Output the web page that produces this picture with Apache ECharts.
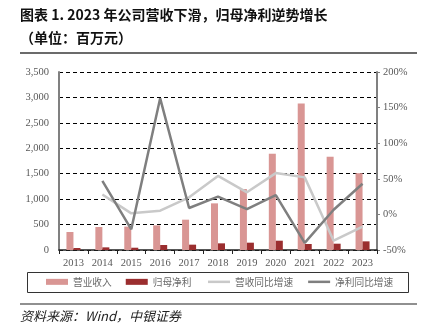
<!DOCTYPE html>
<html>
<head>
<meta charset="utf-8">
<script src="https://cdn.jsdelivr.net/npm/echarts@6/dist/echarts.min.js"></script>
<style>
  html, body { margin: 0; padding: 0; background: #fff; }
  #chart { width: 423px; height: 333px; }
</style>
</head>
<body>
<div id="chart"></div>
<script>
// Annual figures, 2013–2023 (RMB million; growth in %)
const years = ['2013', '2014', '2015', '2016', '2017', '2018', '2019', '2020', '2021', '2022', '2023'];
const revenue = [354, 452, 460, 484, 596, 917, 1199, 1893, 2883, 1834, 1510];
const netProfit = [39, 52, 45, 98, 105, 131, 144, 183, 118, 124, 170];
const revenueGrowth = [null, 28, 1.5, 5.2, 24, 54, 31, 58, 52, -37, -17];
const profitGrowth = [null, 47, -21, 163, 9, 25, 7.5, 27, -40, 6.5, 43];

const seriesNames = ['营业收入', '归母净利', '营收同比增速', '净利同比增速'];
const titleLine1 = '图表 1. 2023 年公司营收下滑，归母净利逆势增长';
const titleLine2 = '（单位：百万元）';
const sourceNote = '资料来源：Wind，中银证券';

const serif = '"Liberation Serif", "Noto Serif CJK SC", "Noto Sans CJK SC", serif';
const cjk = '"Noto Sans CJK SC", "Liberation Serif", sans-serif';
const labelColor = '#595959';
const legendText = { fontFamily: cjk, fontSize: 9.7, color: '#6a6a6a' };

const chart = echarts.init(document.getElementById('chart'), null, { renderer: 'canvas' });

chart.setOption({
  animation: false,
  backgroundColor: '#fff',
  grid: { left: 59, right: 46, top: 72, bottom: 83 },
  legend: [
    {
      // bar swatches
      data: seriesNames.slice(0, 2),
      left: 46, top: 277, itemGap: 14, padding: 0,
      itemWidth: 22, itemHeight: 6, icon: 'rect',
      textStyle: legendText
    },
    {
      // line swatches
      data: seriesNames.slice(2),
      left: 208, top: 277, itemGap: 15, padding: 0,
      itemWidth: 22, itemHeight: 2.5, icon: 'rect',
      textStyle: legendText
    }
  ],
  graphic: [
    { type: 'text', left: 20, top: 8, style: { text: titleLine1, font: 'bold 14px ' + cjk, fill: '#111' } },
    { type: 'text', left: 20, top: 31, style: { text: titleLine2, font: 'bold 14px ' + cjk, fill: '#111' } },
    { type: 'line', shape: { x1: 20, y1: 53, x2: 417, y2: 53 }, style: { stroke: '#6b6b6b', lineWidth: 2 } },
    { type: 'rect', shape: { x: 27.5, y: 272.5, width: 381, height: 20 }, style: { fill: 'none', stroke: '#333', lineWidth: 1 }, z: -1 },
    { type: 'line', shape: { x1: 20, y1: 304, x2: 417, y2: 304 }, style: { stroke: '#6b6b6b', lineWidth: 1.5 } },
    { type: 'text', left: 20, top: 310, style: { text: sourceNote, font: 'italic 13px ' + cjk, fill: '#222' } }
  ],
  xAxis: {
    type: 'category',
    data: years,
    boundaryGap: true,
    axisLine: { lineStyle: { color: '#222', width: 1.5 } },
    axisTick: { show: true, length: 4, lineStyle: { color: '#222' } },
    axisLabel: { fontFamily: serif, fontSize: 10.5, color: labelColor, margin: 8 }
  },
  yAxis: [
    {
      type: 'value',
      min: 0, max: 3500, interval: 500,
      axisLine: { show: true, lineStyle: { color: '#808080', width: 2 } },
      axisTick: { show: false },
      axisLabel: {
        fontFamily: serif, fontSize: 10.5, color: labelColor, margin: 10,
        formatter: v => v.toLocaleString('en-US')
      },
      splitLine: { show: true, lineStyle: { color: '#000', type: [4, 3], width: 1 } }
    },
    {
      type: 'value',
      min: -50, max: 200, interval: 50,
      axisLine: { show: true, lineStyle: { color: '#808080', width: 2 } },
      axisTick: { show: true, length: 3, lineStyle: { color: '#808080' } },
      axisLabel: { fontFamily: serif, fontSize: 10.5, color: labelColor, margin: 6, formatter: '{value}%' },
      splitLine: { show: false }
    }
  ],
  series: [
    {
      name: seriesNames[0], type: 'bar', data: revenue, barWidth: 7, barGap: '0%',
      itemStyle: { color: '#d99694' }
    },
    {
      name: seriesNames[1], type: 'bar', data: netProfit, barWidth: 7, barGap: '0%',
      itemStyle: { color: '#9b2e2f' }
    },
    {
      name: seriesNames[2], type: 'line', yAxisIndex: 1, data: revenueGrowth,
      symbol: 'none', lineStyle: { color: '#c9c9c9', width: 2.5 }, itemStyle: { color: '#c9c9c9' }
    },
    {
      name: seriesNames[3], type: 'line', yAxisIndex: 1, data: profitGrowth,
      symbol: 'none', lineStyle: { color: '#7f7f7f', width: 2.5 }, itemStyle: { color: '#7f7f7f' }
    }
  ]
});
</script>
</body>
</html>
